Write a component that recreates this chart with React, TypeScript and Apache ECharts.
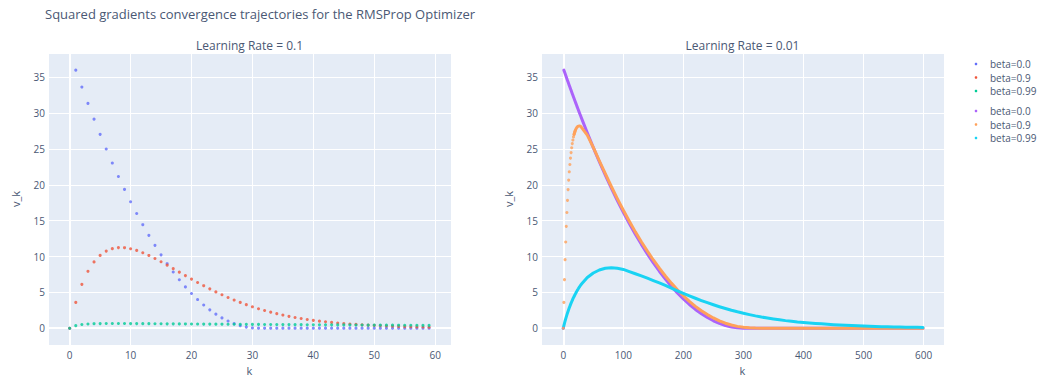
import React, { useEffect, useRef } from "react";
import * as echarts from "echarts";

const FONT = '"Open Sans", verdana, arial, sans-serif';
const TXT = "#4a5874";
const BG = "#E5ECF6";

const titleText = "Squared gradients convergence trajectories for the RMSProp Optimizer";
const subTitles = ["Learning Rate = 0.1", "Learning Rate = 0.01"];
const legendLabels = ["beta=0.0", "beta=0.9", "beta=0.99", "beta=0.0", "beta=0.9", "beta=0.99"];
const leftColors = ["#636efa", "#EF553B", "#00cc96"];
const rightColors = ["#ab63fa", "#FFA15A", "#19d3f3"];

// ---- Left subplot (learning rate 0.1), k = 0..59
const kLeft = [
  0, 1, 2, 3, 4, 5, 6, 7, 8, 9, 10, 11, 12, 13, 14, 15, 16, 17, 18, 19,
  20, 21, 22, 23, 24, 25, 26, 27, 28, 29, 30, 31, 32, 33, 34, 35, 36, 37, 38, 39,
  40, 41, 42, 43, 44, 45, 46, 47, 48, 49, 50, 51, 52, 53, 54, 55, 56, 57, 58, 59,
];
const leftBeta0 = [
  0, 36, 33.64, 31.36, 29.16, 27.04, 25, 23.04, 21.16, 19.36,
  17.64, 16, 14.44, 12.96, 11.56, 10.24, 9, 7.84, 6.76, 5.76,
  4.84, 4, 3.24, 2.56, 1.96, 1.44, 1, 0.64, 0.36, 0.16,
  0.04, 0.01, 0.01, 0.01, 0.01, 0.01, 0.01, 0.01, 0.01, 0.01,
  0.01, 0.01, 0.01, 0.01, 0.01, 0.01, 0.01, 0.01, 0.01, 0.01,
  0.01, 0.01, 0.01, 0.01, 0.01, 0.01, 0.01, 0.01, 0.01, 0.01,
];
const leftBeta09 = [
  0, 3.6, 6.12, 7.94, 9.25, 10.16, 10.76, 11.1, 11.25, 11.23,
  11.09, 10.85, 10.53, 10.15, 9.73, 9.27, 8.8, 8.31, 7.82, 7.34,
  6.85, 6.38, 5.93, 5.49, 5.07, 4.67, 4.29, 3.93, 3.6, 3.29,
  2.99, 2.72, 2.47, 2.24, 2.03, 1.84, 1.66, 1.5, 1.36, 1.22,
  1.1, 0.99, 0.9, 0.81, 0.73, 0.65, 0.59, 0.53, 0.48, 0.43,
  0.39, 0.35, 0.31, 0.28, 0.25, 0.23, 0.21, 0.18, 0.17, 0.15,
];
const leftBeta099 = [
  0, 0.36, 0.52, 0.59, 0.63, 0.65, 0.66, 0.66, 0.66, 0.66,
  0.65, 0.646, 0.639, 0.633, 0.627, 0.62, 0.614, 0.608, 0.602, 0.596,
  0.59, 0.584, 0.578, 0.572, 0.567, 0.561, 0.556, 0.55, 0.545, 0.539,
  0.534, 0.528, 0.523, 0.518, 0.513, 0.508, 0.503, 0.498, 0.493, 0.488,
  0.483, 0.478, 0.473, 0.469, 0.464, 0.459, 0.455, 0.45, 0.446, 0.441,
  0.437, 0.432, 0.428, 0.424, 0.42, 0.415, 0.411, 0.407, 0.403, 0.399,
];

// ---- Right subplot (learning rate 0.01), sampled k values
const kRight = [
  0, 1, 2, 3, 4, 5, 6, 7, 8, 9, 10, 11, 12, 13, 14, 15, 16, 17, 18, 19, 20,
  21, 22, 23, 24, 25, 26, 27, 28, 29, 30,
  40, 50, 60, 70, 80, 90, 100, 110, 120, 130,
  140, 150, 160, 170, 180, 190, 200, 210, 220, 230,
  240, 250, 260, 270, 280, 290, 300, 310, 320, 330,
  340, 350, 360, 370, 380, 390, 400, 410, 420, 430,
  440, 450, 460, 470, 480, 490, 500, 510, 520, 530,
  540, 550, 560, 570, 580, 590, 599,
];
const rightBeta0 = [
  0, 36, 35.76, 35.52, 35.28, 35.05, 34.81, 34.57, 34.34, 34.11, 33.87,
  33.64, 33.41, 33.18, 32.95, 32.72, 32.49, 32.26, 32.04, 31.81, 31.58,
  31.36, 31.14, 30.91, 30.69, 30.47, 30.25, 30.03, 29.81, 29.59, 29.38,
  27.25, 25.2, 23.23, 21.34, 19.54, 17.81, 16.16, 14.59, 13.1, 11.7,
  10.37, 9.12, 7.95, 6.86, 5.86, 4.93, 4.08, 3.31, 2.62, 2.02,
  1.49, 1.04, 0.67, 0.38, 0.18, 0.05, 0, 0, 0, 0,
  0, 0, 0, 0, 0, 0, 0, 0, 0, 0,
  0, 0, 0, 0, 0, 0, 0, 0, 0, 0,
  0, 0, 0, 0, 0, 0, 0,
];
const rightBeta09 = [
  0, 3.6, 6.77, 9.56, 12.03, 14.21, 16.14, 17.84, 19.34, 20.66, 21.82,
  22.84, 23.73, 24.5, 25.17, 25.75, 26.25, 26.68, 27.03, 27.33, 27.58,
  27.77, 27.93, 28.05, 28.13, 28.19, 28.21, 28.22, 28.2, 28.16, 28.11,
  26.94, 25.22, 23.36, 21.55, 19.77, 18.07, 16.45, 14.91, 13.44, 12.06,
  10.75, 9.52, 8.37, 7.29, 6.29, 5.37, 4.52, 3.75, 3.05, 2.44,
  1.9, 1.43, 1.03, 0.7, 0.45, 0.26, 0.13, 0.06, 0.02, 0.01,
  0, 0, 0, 0, 0, 0, 0, 0, 0, 0,
  0, 0, 0, 0, 0, 0, 0, 0, 0, 0,
  0, 0, 0, 0, 0, 0, 0,
];
const rightBeta099 = [
  0, 0.36, 0.69, 1.01, 1.3, 1.59, 1.86, 2.12, 2.37, 2.61, 2.85,
  3.07, 3.29, 3.49, 3.69, 3.89, 4.08, 4.26, 4.43, 4.6, 4.76,
  4.92, 5.08, 5.22, 5.37, 5.5, 5.64, 5.77, 5.89, 6.01, 6.13,
  7.07, 7.7, 8.12, 8.36, 8.44, 8.36, 8.2, 7.9, 7.6, 7.3,
  6.98, 6.65, 6.32, 5.97, 5.59, 5.22, 4.86, 4.52, 4.18, 3.86,
  3.56, 3.27, 3.0, 2.75, 2.51, 2.29, 2.09, 1.9, 1.72, 1.56,
  1.42, 1.29, 1.17, 1.06, 0.97, 0.88, 0.81, 0.74, 0.67, 0.61,
  0.55, 0.5, 0.45, 0.41, 0.37, 0.33, 0.3, 0.27, 0.24, 0.22,
  0.2, 0.18, 0.16, 0.14, 0.13, 0.12, 0.11,
];

const pairs = (ks: number[], vs: number[]) => ks.map((k, i) => [k, vs[i]]);

const grids = [
  { left: 48, top: 53, width: 403, height: 296 },
  { left: 541, top: 53, width: 403, height: 296 },
];
const xRanges = [
  { min: -3.56, max: 62.6 },
  { min: -37.1, max: 634 },
];
const yRange = { min: -2.34, max: 38.39 };

function buildOption() {
  const xAxes = xRanges.map((r, i) => ({
    type: "value",
    gridIndex: i,
    min: r.min,
    max: r.max,
    splitNumber: 6,
    axisLine: { show: false },
    axisTick: { show: false },
    splitLine: { show: true, lineStyle: { color: "#ffffff", width: 1 } },
    axisLabel: {
      color: TXT,
      fontSize: 10,
      fontFamily: FONT,
      margin: 5,
      showMinLabel: false,
      showMaxLabel: false,
    },
    name: "k",
    nameLocation: "middle",
    nameGap: 20,
    nameTextStyle: { color: TXT, fontSize: 11, fontFamily: FONT },
  }));
  const yAxes = [0, 1].map((i) => ({
    type: "value",
    gridIndex: i,
    min: yRange.min,
    max: yRange.max,
    splitNumber: 8,
    axisLine: { show: false },
    axisTick: { show: false },
    splitLine: { show: true, lineStyle: { color: "#ffffff", width: 1 } },
    axisLabel: {
      color: TXT,
      fontSize: 10,
      fontFamily: FONT,
      margin: 3,
      showMinLabel: false,
      showMaxLabel: false,
    },
    name: "v_k",
    nameLocation: "middle",
    nameGap: 27,
    nameTextStyle: { color: TXT, fontSize: 11, fontFamily: FONT },
  }));

  const zeroLines = [0, 1].map((i) => ({
    type: "line",
    xAxisIndex: i,
    yAxisIndex: i,
    data: [],
    silent: true,
    z: 1,
    markLine: {
      silent: true,
      z: 1,
      symbol: ["none", "none"],
      label: { show: false },
      lineStyle: { color: "#ffffff", width: 2, type: "solid" },
      data: [{ yAxis: 0 }, { xAxis: 0 }],
    },
  }));

  const leftVals = [leftBeta0, leftBeta09, leftBeta099];
  const leftSeries = leftVals.map((vals, i) => ({
    type: "scatter",
    name: legendLabels[i],
    xAxisIndex: 0,
    yAxisIndex: 0,
    z: 3,
    symbol: "circle",
    symbolSize: 3.1,
    itemStyle: { color: leftColors[i] },
    data: pairs(kLeft, vals),
  }));

  const rightPairs = [rightBeta0, rightBeta09, rightBeta099].map((v) => pairs(kRight, v));
  const lineBase = (color: string) => ({
    type: "line",
    xAxisIndex: 1,
    yAxisIndex: 1,
    z: 3,
    showSymbol: false,
    symbol: "none",
    lineStyle: { color, width: 3, cap: "round", join: "round" },
    itemStyle: { color },
  });
  const dotBase = (color: string) => ({
    type: "scatter",
    xAxisIndex: 1,
    yAxisIndex: 1,
    z: 3,
    symbol: "circle",
    symbolSize: 3.1,
    itemStyle: { color },
  });
  const rightSeries = [
    // beta = 0.0
    { ...dotBase(rightColors[0]), data: rightPairs[0].filter((p) => p[0] === 0) },
    { ...lineBase(rightColors[0]), data: rightPairs[0].filter((p) => p[0] >= 1) },
    // beta = 0.9
    { ...dotBase(rightColors[1]), data: rightPairs[1].filter((p) => p[0] <= 20) },
    { ...lineBase(rightColors[1]), data: rightPairs[1].filter((p) => p[0] >= 18) },
    // beta = 0.99
    { ...lineBase(rightColors[2]), data: rightPairs[2] },
  ];

  const legendRowsY = [64, 77.5, 91, 111, 124.5, 138];
  const legendColors = [...leftColors, ...rightColors];
  const legendGraphics: any[] = [];
  legendRowsY.forEach((y, i) => {
    legendGraphics.push({
      type: "circle",
      shape: { cx: 976, cy: y, r: 1.3 },
      style: { fill: legendColors[i] },
    });
    legendGraphics.push({
      type: "text",
      x: 990,
      y,
      style: {
        text: legendLabels[i],
        fill: TXT,
        font: `10px ${FONT}`,
        textVerticalAlign: "middle",
        verticalAlign: "middle",
      },
    });
  });

  const subTitleGraphics = subTitles.map((t, i) => ({
    type: "text",
    x: grids[i].left + grids[i].width / 2,
    y: 45,
    style: {
      text: t,
      fill: TXT,
      font: `12px ${FONT}`,
      align: "center",
      textAlign: "center",
      verticalAlign: "middle",
      textVerticalAlign: "middle",
    },
  }));

  return {
    animation: false,
    backgroundColor: "#ffffff",
    title: {
      text: titleText,
      left: 45,
      top: 7,
      padding: 0,
      textStyle: { color: TXT, fontSize: 13, fontWeight: "normal", fontFamily: FONT },
    },
    grid: grids.map((g) => ({
      ...g,
      show: true,
      backgroundColor: BG,
      borderWidth: 0,
      containLabel: false,
    })),
    xAxis: xAxes,
    yAxis: yAxes,
    series: [...zeroLines, ...leftSeries, ...rightSeries],
    graphic: [...subTitleGraphics, ...legendGraphics],
  };
}

export default function App() {
  const ref = useRef<HTMLDivElement>(null);
  useEffect(() => {
    if (!ref.current) return;
    const chart = echarts.init(ref.current, null, { renderer: "svg" });
    chart.setOption(buildOption() as any);
    return () => chart.dispose();
  }, []);
  return (
    <div
      ref={ref}
      style={{ position: "fixed", left: 0, top: 0, width: 1037, height: 381, background: "#fff" }}
    />
  );
}
